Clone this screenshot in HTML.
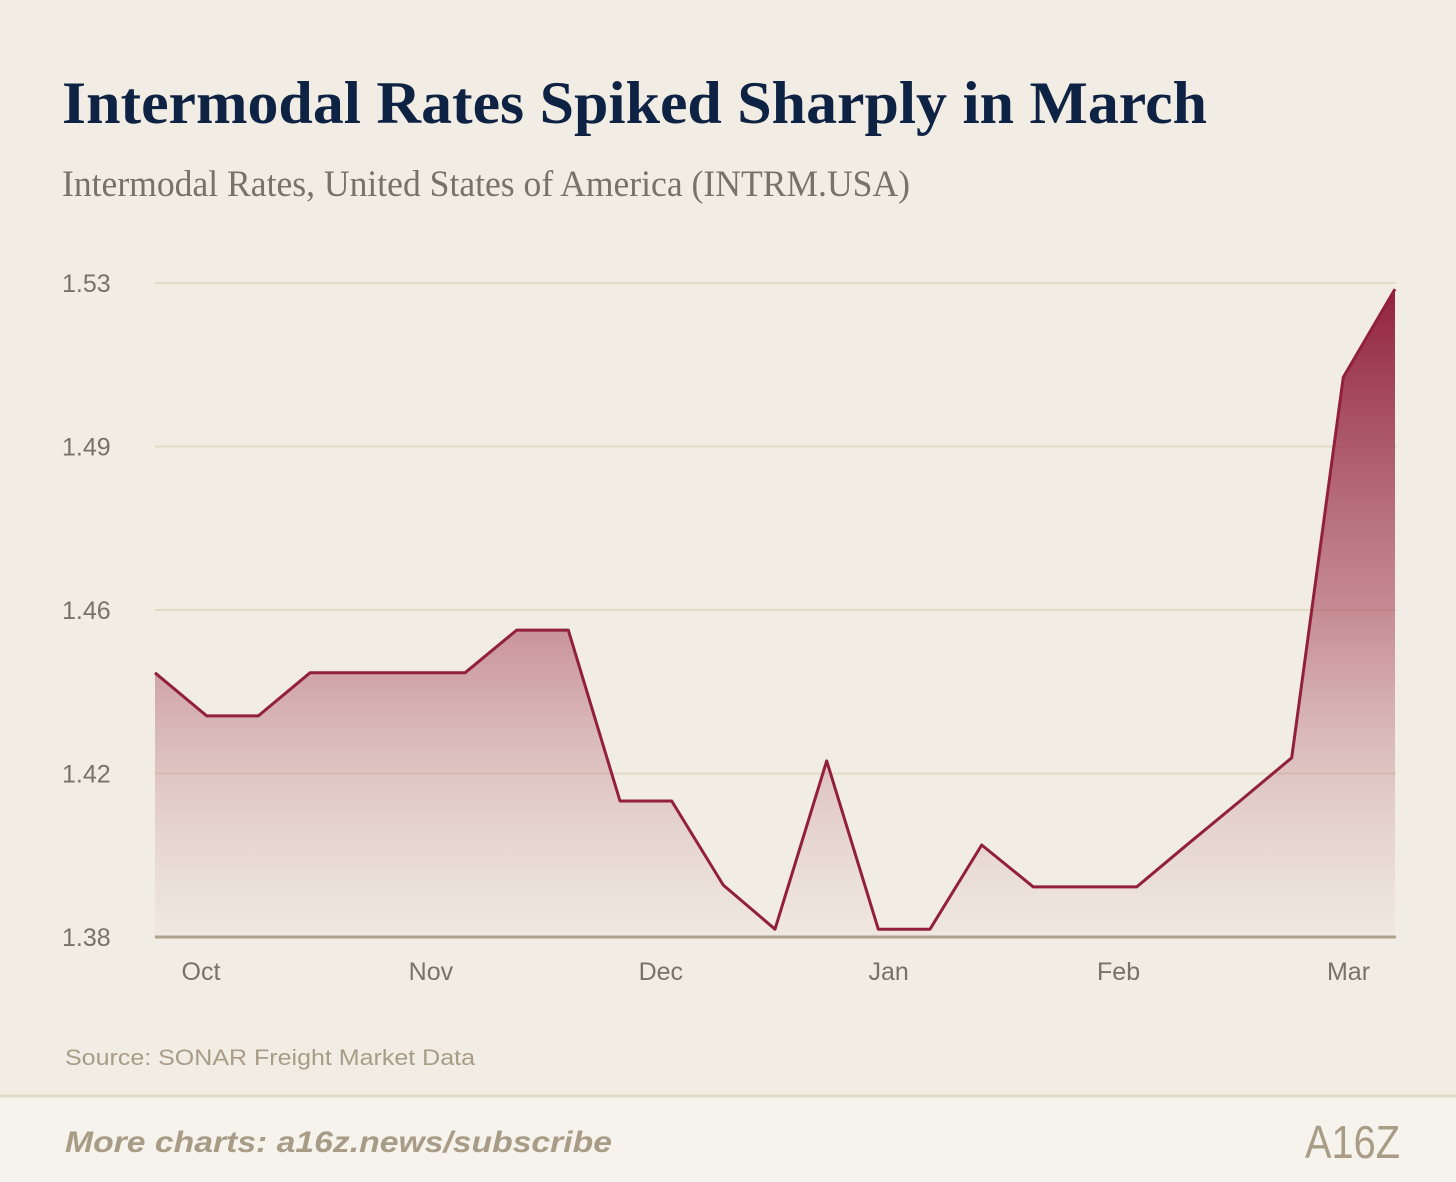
<!DOCTYPE html>
<html><head><meta charset="utf-8"><style>
html,body{margin:0;padding:0;background:#f1ece4}
svg{display:block}
</style></head><body>
<svg id="chart" width="1456" height="1182" viewBox="0 0 1456 1182" xmlns="http://www.w3.org/2000/svg">
<defs>
<linearGradient id="fillGrad" x1="0" y1="283" x2="0" y2="937" gradientUnits="userSpaceOnUse">
<stop offset="0" stop-color="#8e1c38" stop-opacity="0.98"/>
<stop offset="0.5" stop-color="#a84a5e" stop-opacity="0.6"/>
<stop offset="1" stop-color="#c99aa0" stop-opacity="0.05"/>
</linearGradient>
</defs>
<rect x="0" y="0" width="1456" height="1182" fill="#f1ece4"/>
<text x="62" y="123" font-family="Liberation Serif, serif" font-weight="bold" font-size="60" fill="#0e2244" textLength="1145" lengthAdjust="spacingAndGlyphs">Intermodal Rates Spiked Sharply in March</text>
<text x="62" y="196" font-family="Liberation Serif, serif" font-size="37" fill="#77726a" textLength="848" lengthAdjust="spacingAndGlyphs">Intermodal Rates, United States of America (INTRM.USA)</text>
<g id="grid"></g>
<g id="ylabels"></g>
<path id="area" fill="url(#fillGrad)"/>
<line x1="155" y1="937" x2="1396" y2="937" stroke="#ada38e" stroke-width="3"/>
<path id="line" fill="none" stroke="#921f3b" stroke-width="3" stroke-linejoin="round"/>
<g id="xlabels"></g>
<text x="65" y="1065" font-family="Liberation Sans, sans-serif" font-size="22" fill="#a89c86" textLength="410" lengthAdjust="spacingAndGlyphs">Source: SONAR Freight Market Data</text>
<rect x="0" y="1097" width="1456" height="85" fill="#f6f3ed"/>
<line x1="0" y1="1096" x2="1456" y2="1096" stroke="#e2dac8" stroke-width="3"/>
<text x="65" y="1152" font-family="Liberation Sans, sans-serif" font-style="italic" font-weight="bold" font-size="30" fill="#a89c86" textLength="547" lengthAdjust="spacingAndGlyphs">More charts: a16z.news/subscribe</text>
<text x="1305" y="1158" font-family="Liberation Sans, sans-serif" font-size="46" fill="#a89c86" textLength="95" lengthAdjust="spacingAndGlyphs">A16Z</text>
</svg>
<script>
const values = [1.4406,1.4307,1.4307,1.4406,1.4406,1.4406,1.4406,1.4504,1.4504,1.4112,1.4112,1.3919,1.3818,1.4204,1.3818,1.3818,1.4011,1.3915,1.3915,1.3915,1.4014,1.4112,1.4211,1.5084,1.5286];
const yTicks = [1.38,1.4175,1.455,1.4925,1.53];
const yTickLabels = ["1.38","1.42","1.46","1.49","1.53"];
const monthLabels = ["Oct","Nov","Dec","Jan","Feb","Mar"];
const monthPositions = [0.89,5.34,9.79,14.2,18.65,23.1];

const NS = "http://www.w3.org/2000/svg";
const x0 = 155, x1 = 1395, yTop = 283, yBot = 937, vMin = 1.38, vMax = 1.53;
function xScale(i){ return x0 + i * (x1 - x0) / (values.length - 1); }
function yScale(v){ return yBot - (v - vMin) / (vMax - vMin) * (yBot - yTop); }

const grid = document.getElementById('grid');
const yl = document.getElementById('ylabels');
yTicks.forEach((t, i) => {
  if (i > 0) {
    const l = document.createElementNS(NS, 'line');
    
    
    l.setAttribute('x1', x0); l.setAttribute('x2', 1396);
    l.setAttribute('y1', yScale(t)); l.setAttribute('y2', yScale(t));
    l.setAttribute('stroke', '#e2dbc6'); l.setAttribute('stroke-width', '2');
    grid.appendChild(l);
  }
  const tx = document.createElementNS(NS, 'text');
  
  
  tx.setAttribute('x', 62); tx.setAttribute('y', yScale(t) + 9);
  tx.setAttribute('font-family', 'Liberation Sans, sans-serif');
  tx.setAttribute('font-size', '25'); tx.setAttribute('fill', '#77726a');
  tx.textContent = yTickLabels[i];
  yl.appendChild(tx);
});

let d = '';
values.forEach((v, i) => { d += (i ? 'L' : 'M') + xScale(i).toFixed(1) + ',' + yScale(v).toFixed(1); });
document.getElementById('line').setAttribute('d', d);
document.getElementById('area').setAttribute('d', d + 'L' + xScale(values.length - 1) + ',' + yBot + 'L' + x0 + ',' + yBot + 'Z');

const xl = document.getElementById('xlabels');
monthLabels.forEach((m, i) => {
  const tx = document.createElementNS(NS, 'text');
  
  
  tx.setAttribute('x', xScale(monthPositions[i])); tx.setAttribute('y', 980);
  tx.setAttribute('text-anchor', 'middle');
  tx.setAttribute('font-family', 'Liberation Sans, sans-serif');
  tx.setAttribute('font-size', '25'); tx.setAttribute('fill', '#77726a');
  tx.textContent = m;
  xl.appendChild(tx);
});
</script>
</body></html>
